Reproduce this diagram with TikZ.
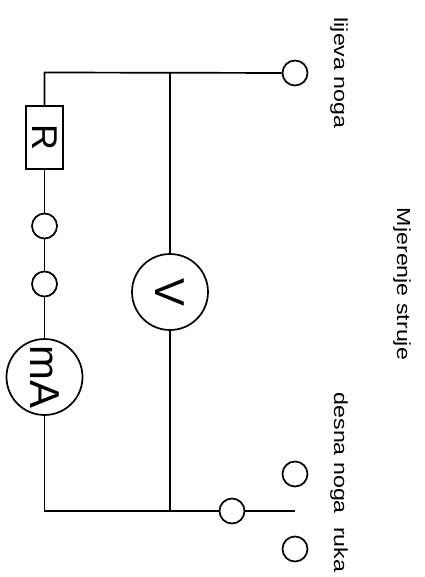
\documentclass[tikz,border=0pt]{standalone}
\usepackage{fontspec}
\setmainfont{Liberation Sans}
\newfontfamily\stretchfont[FakeStretch=1.225]{Liberation Sans}
\tikzset{
  wire/.style={line width=1.7bp,black},
  term/.style={circle,draw,line width=1.7bp,fill=white,minimum size=25bp,inner sep=0pt},
  meter/.style={circle,draw,line width=1.7bp,fill=white,minimum size=76bp,inner sep=0pt,font=\fontsize{42}{42}\selectfont,rotate=-90},
  resbox/.style={rectangle,draw,line width=1.7bp,fill=white,minimum width=63bp,minimum height=37bp,inner sep=0pt,font=\fontsize{36}{36}\selectfont,rotate=-90},
  lbl/.style={rotate=-90,inner sep=0pt,font=\stretchfont\fontsize{19}{19}\selectfont,anchor=base}
}
\begin{document}
\begin{tikzpicture}[x=1bp,y=-1bp]
\useasboundingbox (0,0) rectangle (424,577);
\coordinate (tl) at (44.5,72.5);
\coordinate (tj) at (170,72.5);
\coordinate (bl) at (44.5,511);
\coordinate (bj) at (170,511);
\coordinate (sw) at (295,511);
\node[resbox] (r) at (44.5,137.5) {R};
\node[term] (c1) at (44.5,226) {};
\node[term] (c2) at (44.5,284) {};
\node[meter] (ma) at (44.5,377) {mA};
\node[meter] (v) at (170,292) {V};
\node[term] (ln) at (295,73) {};
\node[term] (s) at (232,511) {};
\node[term] (dn) at (295,474) {};
\node[term] (ru) at (295,549) {};
\draw[wire] (ln) -- (tl) -- (r);
\draw[wire] (r) -- (c1);
\draw[wire] (c1) -- (c2);
\draw[wire] (c2) -- (ma);
\draw[wire] (ma) -- (bl) -- (s);
\draw[wire] (s) -- (sw);
\draw[wire] (tj) -- (v);
\draw[wire] (v) -- (bj);
\node[lbl] (t1) at (334,73) {lijeva noga};
\node[lbl] (t2) at (397,284) {Mjerenje struje};
\node[lbl] (t3) at (334,482.5) {desna noga\hspace{0.7em}ruka};
\end{tikzpicture}
\end{document}
